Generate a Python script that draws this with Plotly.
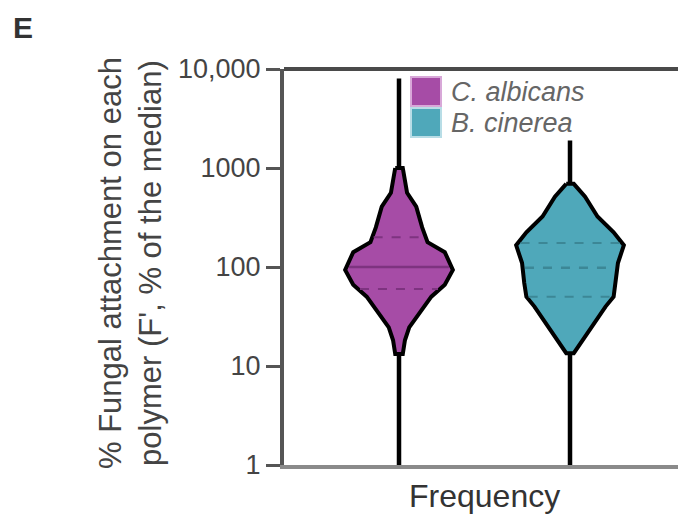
import numpy as np
import plotly.graph_objects as go

# ---- data ----
species = ["C. albicans", "B. cinerea"]
colors = ["#A64CA6", "#4FA8BA"]
line_colors = ["#7E3380", "#3C8796"]

# density profiles: log10(value) levels and relative half-widths
alb_log = [3.00, 2.75, 2.61, 2.40, 2.25, 2.15, 1.97, 1.82, 1.70, 1.53, 1.39, 1.26, 1.12]
alb_w   = [0.07, 0.15, 0.32, 0.43, 0.53, 0.85, 1.00, 0.85, 0.60, 0.38, 0.19, 0.11, 0.07]
cin_log = [2.84, 2.71, 2.51, 2.35, 2.22, 2.04, 1.84, 1.70, 1.60, 1.39, 1.26, 1.13]
cin_w   = [0.07, 0.28, 0.51, 0.81, 1.00, 0.89, 0.85, 0.81, 0.66, 0.40, 0.23, 0.07]

mins = [1, 1]
maxs = [8000, 1900]
q1 = [60, 50]
medians = [100, 98]
q3 = [200, 175]

tick_vals = [1, 10, 100, 1000, 10000]
tick_text = ["1", "10", "100", "1000", "10,000"]

profiles = [(alb_log, alb_w), (cin_log, cin_w)]
positions = [0, 1]
half_width = 0.315
FONT = "Liberation Sans"

fig = go.Figure()

for i, name in enumerate(species):
    pos = positions[i]
    # whisker line
    fig.add_trace(go.Scatter(x=[pos, pos], y=[mins[i], maxs[i]], mode="lines",
                             line=dict(color="black", width=4.5), showlegend=False,
                             hoverinfo="skip"))
    lg, w = profiles[i]
    lg = np.array(lg)
    w = np.array(w) * half_width
    xs = np.concatenate([pos - w, (pos + w)[::-1], [pos - w[0]]])
    ys = np.concatenate([10 ** lg, (10 ** lg)[::-1], [10 ** lg[0]]])
    fig.add_trace(go.Scatter(x=xs, y=ys, mode="lines", fill="toself",
                             fillcolor=colors[i], line=dict(color="black", width=4),
                             name=name, showlegend=False, hoverinfo="skip"))
    # quartile / median lines
    asc_lg = lg[::-1]
    asc_w = w[::-1]
    for val, dash, lw in [(q1[i], "dash", 2), (medians[i], "solid" if i == 0 else "dash", 2.5), (q3[i], "dash", 2)]:
        hw = np.interp(np.log10(val), asc_lg, asc_w) * 0.95
        fig.add_trace(go.Scatter(x=[pos - hw, pos + hw], y=[val, val], mode="lines",
                                 line=dict(color=line_colors[i], width=lw, dash=dash),
                                 showlegend=False, hoverinfo="skip"))

L, R, T, B = 284, 0, 69, 51
W, H = 678, 516
pw, ph = W - L - R, H - T - B

def px(x):
    return (x - L) / pw

def py(y):
    return (H - B - y) / ph

shapes = [
    dict(type="line", xref="paper", yref="paper", x0=0, x1=1, y0=1, y1=1,
         line=dict(color="#4a4a4a", width=4)),
]
annotations = []
# legend
leg_tops = [77, 108]
leg_border = ["#D8A8D8", "#B8DDE6"]
for i, name in enumerate(species):
    shapes.append(dict(type="rect", xref="paper", yref="paper",
                       x0=px(411), x1=px(441), y0=py(leg_tops[i] + 29), y1=py(leg_tops[i]),
                       fillcolor=colors[i], line=dict(color=leg_border[i], width=2)))
    annotations.append(dict(xref="paper", yref="paper", x=px(449), y=py(leg_tops[i] + 15),
                            xanchor="left", yanchor="middle", showarrow=False,
                            text="<i>" + name + "</i>",
                            font=dict(family=FONT, size=27, color="#666666")))

annotations.append(dict(xref="paper", yref="paper", x=px(130), y=py(263),
                        xanchor="center", yanchor="middle", showarrow=False, textangle=-90,
                        text="% Fungal attachment on each<br>polymer (F', % of the median)",
                        font=dict(family=FONT, size=31, color="#444444")))
annotations.append(dict(xref="paper", yref="paper", x=px(11), y=py(9),
                        xanchor="left", yanchor="top", showarrow=False, text="<b>E</b>",
                        font=dict(family=FONT, size=30, color="#333333")))
annotations.append(dict(xref="paper", yref="paper", x=px(484), y=py(496),
                        xanchor="center", yanchor="middle", showarrow=False, text="Frequency",
                        font=dict(family=FONT, size=32, color="#333333")))

fig.update_layout(
    width=W, height=H,
    margin=dict(l=L, r=R, t=T, b=B),
    paper_bgcolor="white", plot_bgcolor="white",
    showlegend=False,
    shapes=shapes, annotations=annotations,
    xaxis=dict(range=[(L - 399) / 171, (W - 399) / 171], showgrid=False, zeroline=False,
               showticklabels=False, ticks="", showline=True, linecolor="#8a8a8a",
               linewidth=4),
    yaxis=dict(type="log", range=[0, 4], tickvals=tick_vals, ticktext=tick_text,
               showgrid=False, zeroline=False, showline=True, linecolor="#555555",
               linewidth=4, ticks="outside", ticklen=14, tickwidth=3, tickcolor="#555555",
               tickfont=dict(family=FONT, size=27, color="#444444")),
)

fig.write_html("out.html", config={"displayModeBar": False},
               post_script="document.body.style.margin='0px';document.body.style.overflow='hidden';")
